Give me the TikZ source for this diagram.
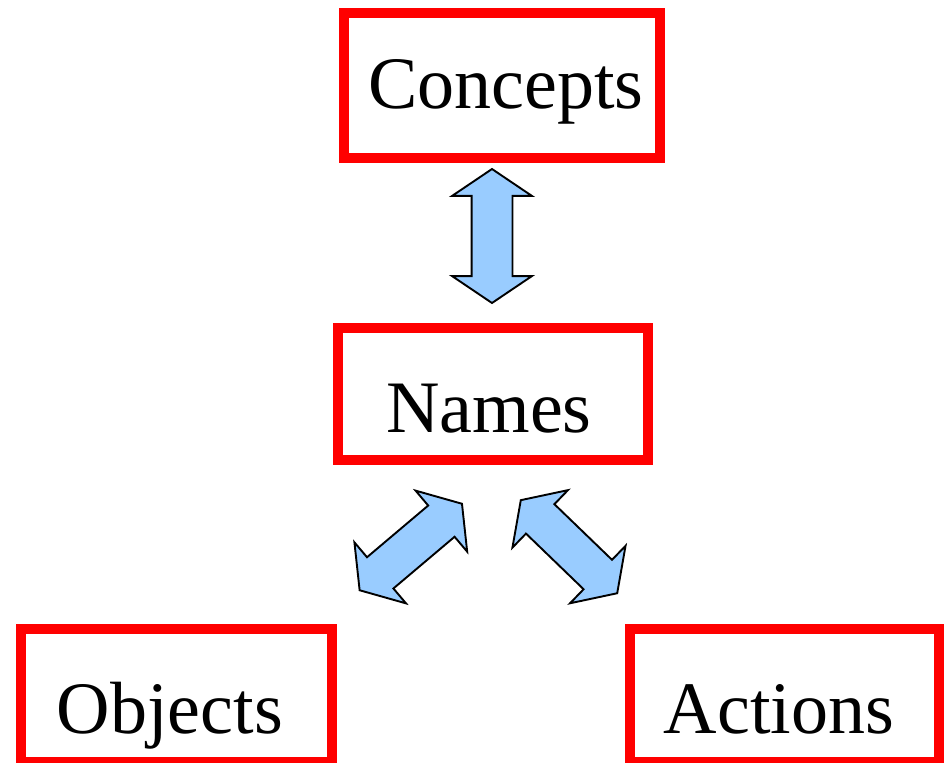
\documentclass[tikz,border=0pt]{standalone}
\usepackage{fontspec}
\setmainfont{Liberation Serif}
\usepackage{xcolor}
\usepackage{tikz}
\usetikzlibrary{shapes.arrows}

\definecolor{boxred}{HTML}{FF0000}
\definecolor{arrowblue}{HTML}{99CCFF}

\begin{document}
\begin{tikzpicture}[x=1pt, y=-1pt,
    box/.style={rectangle, draw=boxred, line width=10pt, inner sep=0pt},
    word/.style={anchor=base, font=\fontsize{74}{80}\selectfont},
    link/.style={double arrow, draw=black, line width=1.9pt, fill=arrowblue,
        inner xsep=0pt, inner ysep=19.5pt, double arrow head extend=19.5pt,
        double arrow tip angle=112, minimum height=134pt}]

    \useasboundingbox (0,0) rectangle (946,763);

    \node[box, minimum width=316pt, minimum height=145pt] (C) at (502,85.5) {};
    \node[box, minimum width=310pt, minimum height=132pt] (N) at (493,394) {};
    \node[box, minimum width=311pt, minimum height=133pt] (O) at (176.5,695.5) {};
    \node[box, minimum width=309pt, minimum height=133pt] (A) at (784.5,695.5) {};

    \node[word] (Ct) at (506,108) {Concepts};
    \node[word] (Nt) at (489,432) {Names};
    \node[word] (Ot) at (170,733) {Objects};
    \node[word] (At) at (779,733) {Actions};

    % block arrows between the boxes
    \node[link, rotate=90] (CN) at (492,236) {};
    \node[link, rotate=40.2] (NO) at (410.8,547) {};
    \node[link, rotate=-44] (NA) at (569,546.7) {};
\end{tikzpicture}
\end{document}
